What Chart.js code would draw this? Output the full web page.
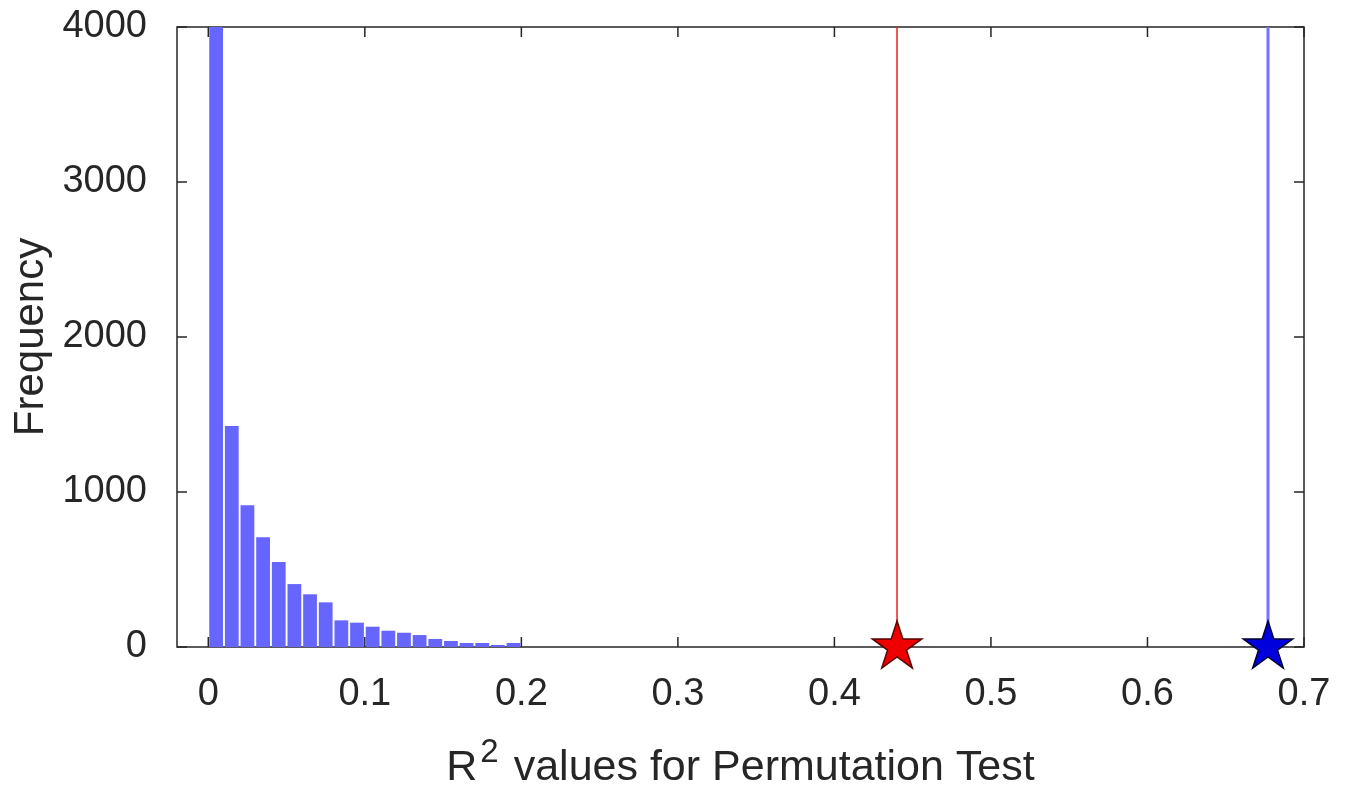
<!DOCTYPE html>
<html>
<head>
<meta charset="utf-8">
<title>Permutation Test</title>
<script src="https://cdn.jsdelivr.net/npm/chart.js@4"></script>
<style>
  body { margin: 0; background: #fff; }
  #wrap { width: 1352px; height: 790px; }
</style>
</head>
<body>
<div id="wrap"><canvas id="permChart" width="1352" height="790"></canvas></div>
<script>
// histogram bins (centres) and counts
const binCenters = [0.005, 0.015, 0.025, 0.035, 0.045, 0.055, 0.065, 0.075, 0.085, 0.095,
  0.105, 0.115, 0.125, 0.135, 0.145, 0.155, 0.165, 0.175, 0.185, 0.195];
const binCounts = [5200, 1426, 914, 708, 548, 406, 340, 288, 172, 157,
  131, 105, 92, 77, 52, 39, 26, 26, 13, 26];

// observed R^2 values
const observedRed = 0.44;
const observedBlue = 0.677;

const xTickValues = [0, 0.1, 0.2, 0.3, 0.4, 0.5, 0.6, 0.7];
const xTickLabels = ['0', '0.1', '0.2', '0.3', '0.4', '0.5', '0.6', '0.7'];
const yTickValues = [0, 1000, 2000, 3000, 4000];
const yTickLabels = ['0', '1000', '2000', '3000', '4000'];

const textColor = '#262626';
const fontName = '"Liberation Sans", Arial, Helvetica, sans-serif';

function makeStar(fill, edge) {
  const R = 26;
  const r = R * 0.382;
  const size = R * 2 + 4;
  const c = document.createElement('canvas');
  c.width = size;
  c.height = size;
  const g = c.getContext('2d');
  g.beginPath();
  for (let i = 0; i < 10; i++) {
    const rad = i % 2 === 0 ? R : r;
    const a = -Math.PI / 2 + i * Math.PI / 5;
    const px = size / 2 + rad * Math.cos(a);
    const py = size / 2 + rad * Math.sin(a);
    if (i === 0) g.moveTo(px, py); else g.lineTo(px, py);
  }
  g.closePath();
  g.fillStyle = fill;
  g.fill();
  g.lineWidth = 1.5;
  g.strokeStyle = edge;
  g.stroke();
  return c;
}

// box round the axes with inward ticks, like matlab
const boxPlugin = {
  id: 'boxPlugin',
  beforeDatasetsDraw(chart) {
    const ctx = chart.ctx;
    const a = chart.chartArea;
    const xs = chart.scales.x;
    const ys = chart.scales.y;
    ctx.save();
    ctx.strokeStyle = textColor;
    ctx.lineWidth = 1.5;
    ctx.strokeRect(a.left, a.top, a.right - a.left, a.bottom - a.top);
    ctx.beginPath();
    xTickValues.forEach(v => {
      const px = xs.getPixelForValue(v);
      ctx.moveTo(px, a.bottom); ctx.lineTo(px, a.bottom - 10);
      ctx.moveTo(px, a.top); ctx.lineTo(px, a.top + 10);
    });
    yTickValues.forEach(v => {
      const py = ys.getPixelForValue(v);
      ctx.moveTo(a.left, py); ctx.lineTo(a.left + 10, py);
      ctx.moveTo(a.right, py); ctx.lineTo(a.right - 10, py);
    });
    ctx.stroke();
    ctx.restore();
  },
  afterDraw(chart) {
    // x label with a real superscript
    const ctx = chart.ctx;
    const a = chart.chartArea;
    const mid = (a.left + a.right) / 2;
    const base = 780;
    const big = '43px ' + fontName;
    const small = '33px ' + fontName;
    const rest = ' values for Permutation Test';
    ctx.save();
    ctx.fillStyle = textColor;
    ctx.textBaseline = 'alphabetic';
    ctx.font = big;
    const wR = ctx.measureText('R').width;
    const wRest = ctx.measureText(rest).width;
    ctx.font = small;
    const w2 = ctx.measureText('2').width + 6;
    let x = mid - (wR + w2 + wRest) / 2;
    ctx.font = big;
    ctx.fillText('R', x, base);
    x += wR + 3;
    ctx.font = small;
    ctx.fillText('2', x, base - 18);
    x += w2 - 3;
    ctx.font = big;
    ctx.fillText(rest, x, base);
    ctx.restore();
  }
};

const ctx = document.getElementById('permChart').getContext('2d');

const permChart = new Chart(ctx, {
  type: 'bar',
  data: {
    datasets: [{
      type: 'line',
      label: 'red star',
      data: [{ x: observedRed, y: 0 }],
      showLine: false,
      pointStyle: makeStar('#ee0000', '#550000'),
      pointRadius: 26,
      clip: false,
      order: 0
    }, {
      type: 'line',
      label: 'blue star',
      data: [{ x: observedBlue, y: 0 }],
      showLine: false,
      pointStyle: makeStar('#0000dd', '#000033'),
      pointRadius: 26,
      clip: false,
      order: 0
    }, {
      type: 'line',
      label: 'red line',
      data: [{ x: observedRed, y: 0 }, { x: observedRed, y: 4000 }],
      borderColor: '#f01c1c',
      borderWidth: 1.5,
      pointRadius: 0,
      order: 1
    }, {
      type: 'line',
      label: 'blue line',
      data: [{ x: observedBlue, y: 0 }, { x: observedBlue, y: 4000 }],
      borderColor: '#7373ff',
      borderWidth: 3,
      pointRadius: 0,
      order: 1
    }, {
      type: 'bar',
      label: 'R2 permutations',
      data: binCenters.map((c, i) => ({ x: c, y: binCounts[i] })),
      backgroundColor: 'rgb(102,102,255)',
      borderWidth: 0,
      barPercentage: 0.88,
      categoryPercentage: 1,
      order: 2
    }]
  },
  options: {
    responsive: false,
    animation: false,
    layout: { padding: { top: 27, right: 48, left: 0, bottom: 0 } },
    plugins: {
      legend: { display: false },
      tooltip: { enabled: false }
    },
    scales: {
      x: {
        type: 'linear',
        min: -0.02,
        max: 0.7,
        offset: false,
        grid: { display: false, offset: false },
        border: { display: false },
        afterBuildTicks: scale => { scale.ticks = xTickValues.map(v => ({ value: v })); },
        afterFit: scale => {
          scale.height = 143;
          scale.paddingLeft = 0;
          scale.paddingRight = 0;
        },
        ticks: {
          color: textColor,
          font: { family: fontName, size: 38 },
          padding: 17,
          maxRotation: 0,
          autoSkip: false,
          callback: (v, i) => xTickLabels[i]
        }
      },
      y: {
        min: 0,
        max: 4000,
        grid: { display: false },
        border: { display: false },
        afterBuildTicks: scale => { scale.ticks = yTickValues.map(v => ({ value: v })); },
        afterFit: scale => {
          scale.width = 177;
          scale.paddingTop = 0;
          scale.paddingBottom = 0;
        },
        ticks: {
          color: textColor,
          font: { family: fontName, size: 38 },
          padding: 22,
          callback: (v, i) => yTickLabels[i]
        },
        title: {
          display: true,
          text: 'Frequency',
          color: textColor,
          font: { family: fontName, size: 42 },
          padding: { top: 6, bottom: 0 }
        }
      }
    }
  },
  plugins: [boxPlugin]
});
</script>
</body>
</html>
